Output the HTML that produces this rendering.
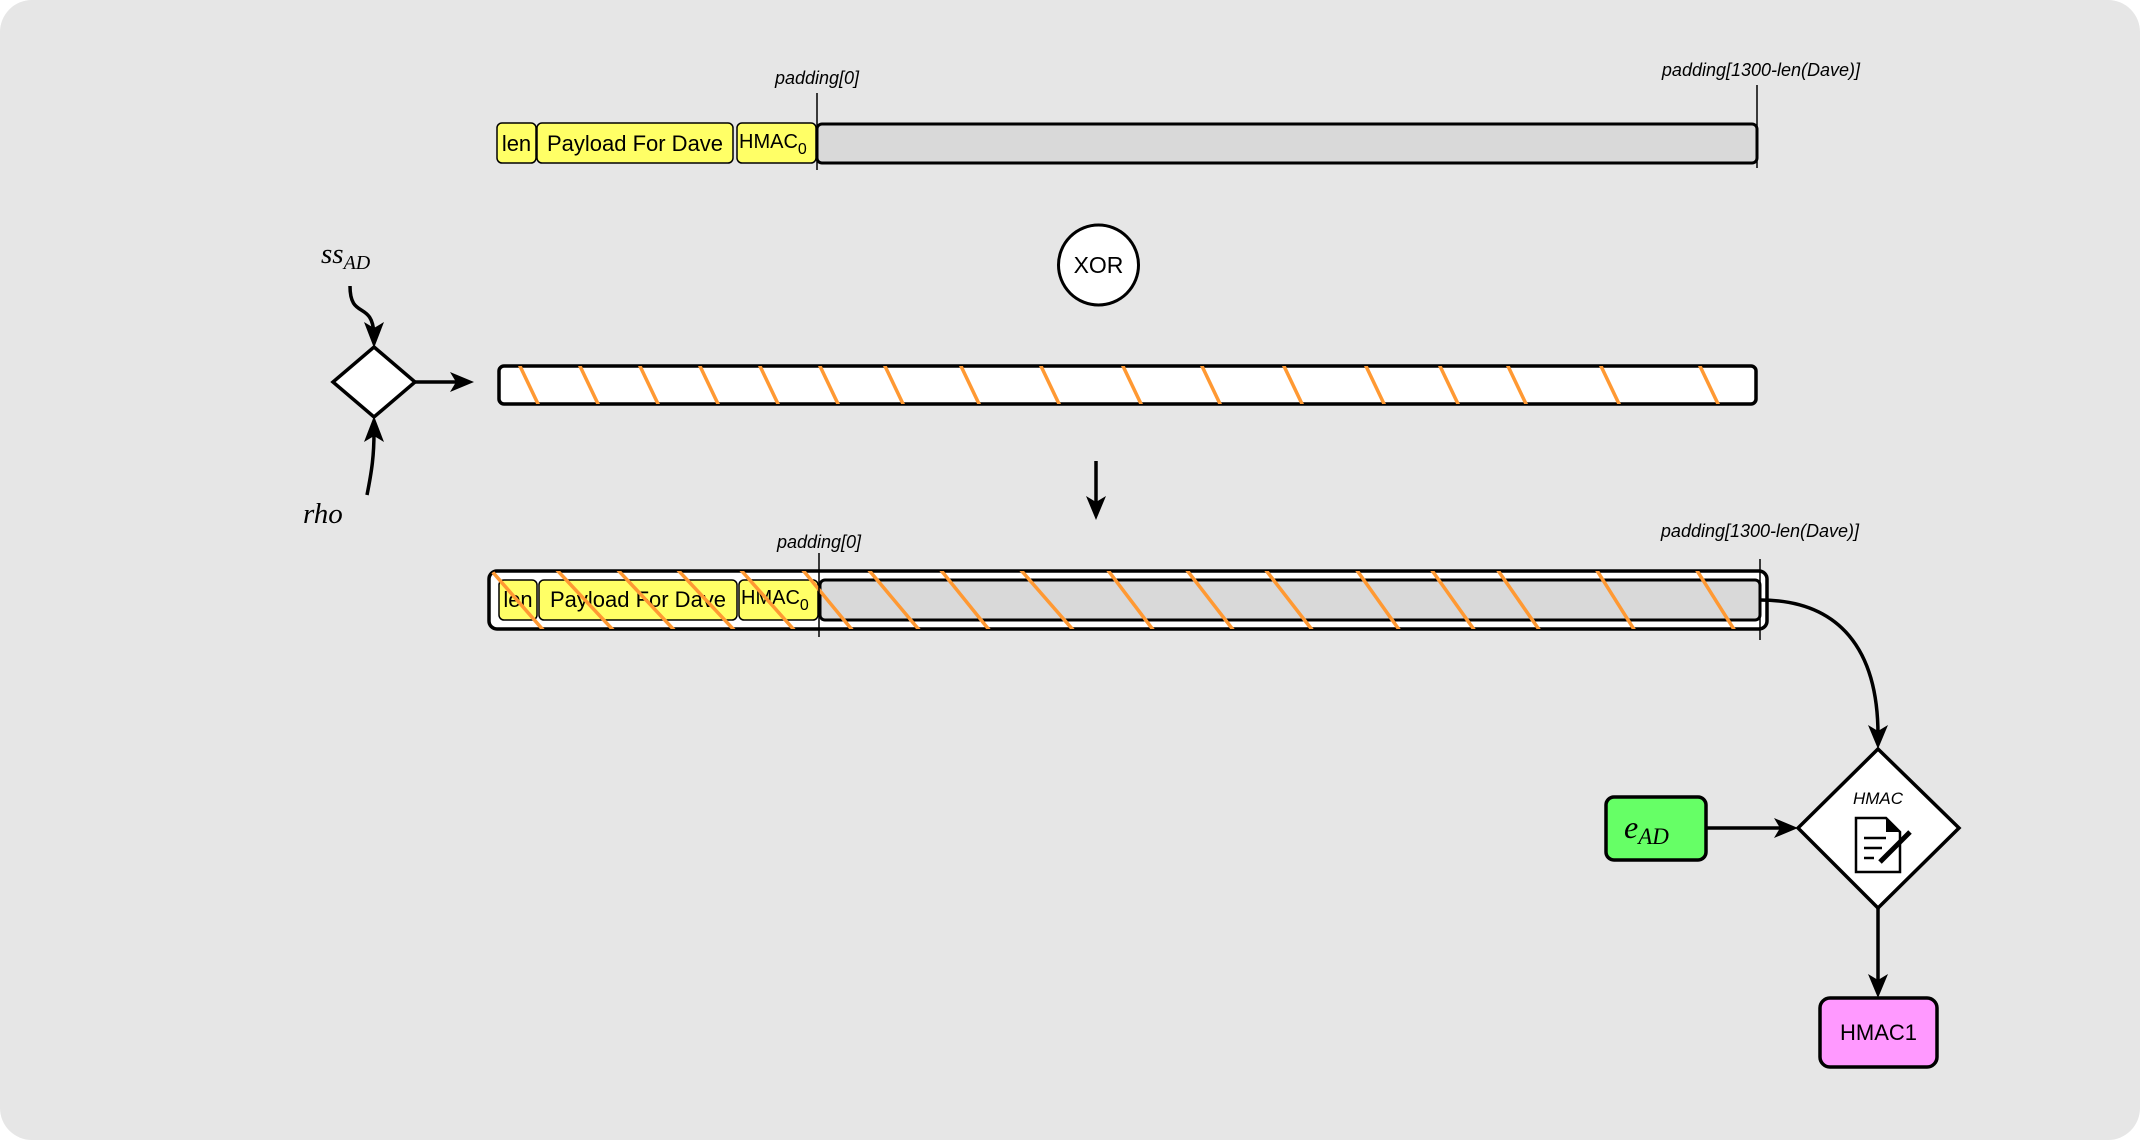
<!DOCTYPE html>
<html><head><meta charset="utf-8"><style>
html,body{margin:0;padding:0;background:#fff;}
svg{display:block;}
</style></head><body>
<svg width="2140" height="1140" viewBox="0 0 2140 1140" xmlns="http://www.w3.org/2000/svg">
<defs>
<clipPath id="midclip"><rect x="499" y="366" width="1257" height="38" rx="5"/></clipPath>
<clipPath id="botclip"><rect x="489" y="571" width="1278" height="58" rx="8"/></clipPath>
</defs>
<rect x="0" y="0" width="2140" height="1140" rx="32" fill="#e6e6e6"/>

<g font-family="Liberation Sans, sans-serif">
<!-- top row -->
<rect x="497" y="123" width="39" height="40" rx="5" fill="#ffff66" stroke="#000" stroke-width="1.5"/>
<text x="516.5" y="151" font-size="22" text-anchor="middle">len</text>
<rect x="537" y="123" width="196" height="40" rx="5" fill="#ffff66" stroke="#000" stroke-width="1.5"/>
<text x="635" y="151" font-size="22" text-anchor="middle">Payload For Dave</text>
<rect x="737" y="123" width="79" height="40" rx="5" fill="#ffff66" stroke="#000" stroke-width="1.5"/>
<text x="739" y="148" font-size="20">HMAC<tspan font-size="16" dy="6">0</tspan></text>
<rect x="817" y="124" width="940" height="39" rx="5" fill="#d9d9d9" stroke="#000" stroke-width="3"/>
<line x1="817" y1="93" x2="817" y2="170" stroke="#000" stroke-width="1.5"/>
<text x="817" y="84" font-size="18" font-style="italic" text-anchor="middle">padding[0]</text>
<line x1="1757" y1="85" x2="1757" y2="168" stroke="#000" stroke-width="1.5"/>
<text x="1761" y="76" font-size="18" font-style="italic" text-anchor="middle">padding[1300-len(Dave)]</text>

<!-- XOR -->
<circle cx="1098.5" cy="265" r="40" fill="#fff" stroke="#000" stroke-width="3"/>
<text x="1098.5" y="273" font-size="23" text-anchor="middle">XOR</text>

<!-- left diamond -->
<polygon points="374,347 415,382 374,417 333,382" fill="#fff" stroke="#000" stroke-width="3.5"/>
<path d="M350,286 C350,320 372,300 374,334" fill="none" stroke="#000" stroke-width="3.5"/>
<polygon points="364,322 374,328 384,322 374,348" fill="#000"/>
<path d="M367,495 C372,470 374,455 374,432" fill="none" stroke="#000" stroke-width="3.5"/>
<polygon points="364,442 374,436 384,442 374,416" fill="#000"/>
<line x1="415" y1="382" x2="460" y2="382" stroke="#000" stroke-width="3.5"/>
<polygon points="450,372 456,382 450,392 474,382" fill="#000"/>
<text x="321" y="263" font-family="Liberation Serif, serif" font-style="italic" font-size="29">ss<tspan font-size="20" dy="6">AD</tspan></text>
<text x="303" y="523" font-family="Liberation Serif, serif" font-style="italic" font-size="29">rho</text>

<!-- middle bar -->
<rect x="499" y="366" width="1257" height="38" rx="5" fill="#fff" stroke="#000" stroke-width="3.5"/>
<g clip-path="url(#midclip)" stroke="#ff9933" stroke-width="3.5">
<line x1="519" y1="364" x2="539" y2="406"/>
<line x1="579" y1="364" x2="599" y2="406"/>
<line x1="639" y1="364" x2="659" y2="406"/>
<line x1="699" y1="364" x2="719" y2="406"/>
<line x1="759" y1="364" x2="779" y2="406"/>
<line x1="819" y1="364" x2="839" y2="406"/>
<line x1="884" y1="364" x2="904" y2="406"/>
<line x1="960" y1="364" x2="980" y2="406"/>
<line x1="1040" y1="364" x2="1060" y2="406"/>
<line x1="1122" y1="364" x2="1142" y2="406"/>
<line x1="1201" y1="364" x2="1221" y2="406"/>
<line x1="1283" y1="364" x2="1303" y2="406"/>
<line x1="1365" y1="364" x2="1385" y2="406"/>
<line x1="1439" y1="364" x2="1459" y2="406"/>
<line x1="1507" y1="364" x2="1527" y2="406"/>
<line x1="1600" y1="364" x2="1620" y2="406"/>
<line x1="1699" y1="364" x2="1719" y2="406"/>
</g>

<!-- down arrow -->
<line x1="1096" y1="461" x2="1096" y2="505" stroke="#000" stroke-width="3.5"/>
<polygon points="1086,496 1096,502 1106,496 1096,520" fill="#000"/>

<!-- bottom row -->
<rect x="489" y="571" width="1278" height="58" rx="8" fill="#fff" stroke="#000" stroke-width="3.5"/>
<rect x="499" y="580" width="38" height="40" rx="5" fill="#ffff66" stroke="#000" stroke-width="1.5"/>
<text x="518" y="607" font-size="22" text-anchor="middle">len</text>
<rect x="539" y="580" width="198" height="40" rx="5" fill="#ffff66" stroke="#000" stroke-width="1.5"/>
<text x="638" y="607" font-size="22" text-anchor="middle">Payload For Dave</text>
<rect x="739" y="580" width="79" height="40" rx="5" fill="#ffff66" stroke="#000" stroke-width="1.5"/>
<text x="741" y="604" font-size="20">HMAC<tspan font-size="16" dy="6">0</tspan></text>
<rect x="820" y="580" width="940" height="40" rx="5" fill="#d9d9d9" stroke="#000" stroke-width="3"/>
<g clip-path="url(#botclip)" stroke="#ff9933" stroke-width="3.5">
<line x1="490" y1="569" x2="544" y2="631"/>
<line x1="556" y1="569" x2="614" y2="631"/>
<line x1="617" y1="569" x2="675" y2="631"/>
<line x1="677" y1="569" x2="735" y2="631"/>
<line x1="740" y1="569" x2="795" y2="631"/>
<line x1="802" y1="569" x2="853" y2="631"/>
<line x1="868" y1="569" x2="920" y2="631"/>
<line x1="940" y1="569" x2="990" y2="631"/>
<line x1="1020" y1="569" x2="1074" y2="631"/>
<line x1="1107" y1="569" x2="1154" y2="631"/>
<line x1="1186" y1="569" x2="1234" y2="631"/>
<line x1="1265" y1="569" x2="1313" y2="631"/>
<line x1="1356" y1="569" x2="1400" y2="631"/>
<line x1="1431" y1="569" x2="1475" y2="631"/>
<line x1="1497" y1="569" x2="1540" y2="631"/>
<line x1="1596" y1="569" x2="1635" y2="631"/>
<line x1="1696" y1="569" x2="1735" y2="631"/>
</g>
<line x1="819" y1="553" x2="819" y2="637" stroke="#000" stroke-width="1.5"/>
<text x="819" y="548" font-size="18" font-style="italic" text-anchor="middle">padding[0]</text>
<line x1="1760" y1="559" x2="1760" y2="640" stroke="#000" stroke-width="1.5"/>
<text x="1760" y="537" font-size="18" font-style="italic" text-anchor="middle">padding[1300-len(Dave)]</text>

<!-- curve to HMAC diamond -->
<path d="M1760,600 C1840,600 1878,650 1878,735" fill="none" stroke="#000" stroke-width="3.5"/>
<polygon points="1868,725 1878,731 1888,725 1878,749" fill="#000"/>

<!-- HMAC diamond -->
<polygon points="1878,749 1959,828 1878,908 1798,828" fill="#fff" stroke="#000" stroke-width="3.5"/>
<text x="1878" y="804" font-size="17" font-style="italic" text-anchor="middle">HMAC</text>
<g stroke="#000" stroke-width="2.5" fill="none">
<path d="M1856,818 L1886,818 L1900,832 L1900,872 L1856,872 Z"/>
<line x1="1864" y1="838" x2="1886" y2="838"/>
<line x1="1864" y1="848" x2="1882" y2="848"/>
<line x1="1864" y1="858" x2="1874" y2="858"/>
</g>
<polygon points="1886,818 1900,832 1886,832" fill="#000"/>
<line x1="1880" y1="862" x2="1910" y2="832" stroke="#000" stroke-width="5"/>

<!-- e_AD -->
<rect x="1606" y="797" width="100" height="63" rx="8" fill="#66ff66" stroke="#000" stroke-width="3.5"/>
<text x="1624" y="838" font-family="Liberation Serif, serif" font-style="italic" font-size="32">e<tspan font-size="23" dy="6">AD</tspan></text>
<line x1="1706" y1="828" x2="1784" y2="828" stroke="#000" stroke-width="3.5"/>
<polygon points="1774,818 1780,828 1774,838 1798,828" fill="#000"/>

<!-- HMAC1 -->
<line x1="1878" y1="908" x2="1878" y2="985" stroke="#000" stroke-width="3.5"/>
<polygon points="1868,974 1878,980 1888,974 1878,998" fill="#000"/>
<rect x="1820" y="998" width="117" height="69" rx="10" fill="#ff99ff" stroke="#000" stroke-width="3.5"/>
<text x="1878.5" y="1040" font-size="22" text-anchor="middle">HMAC1</text>
</g>
</svg>
</body></html>
